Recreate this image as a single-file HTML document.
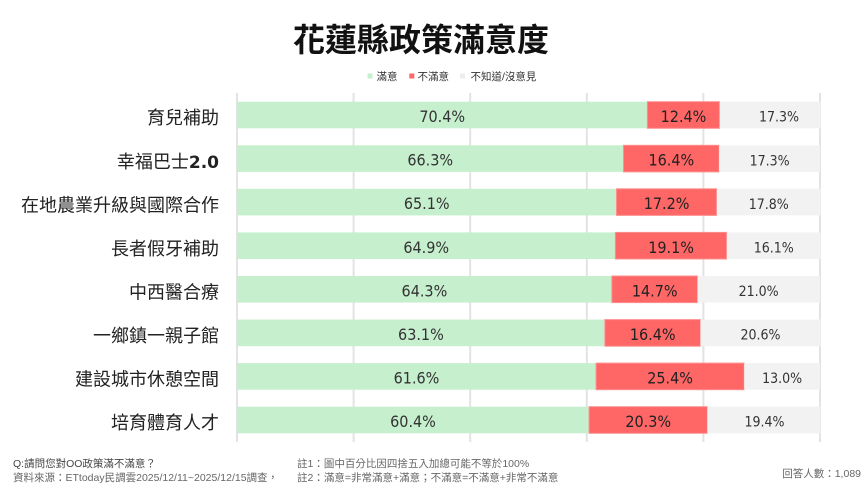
<!DOCTYPE html>
<html>
<head>
<meta charset="utf-8">
<style>
  html, body { margin: 0; padding: 0; background: #ffffff; }
  body { width: 868px; height: 491px; overflow: hidden; }
  svg { display: block; }
  .cjk { font-family: "Liberation Sans", "Noto Sans CJK TC", "Noto Sans CJK SC", sans-serif; }
  .num { font-family: "DejaVu Sans Condensed", "Liberation Sans", sans-serif; }
</style>
</head>
<body>
<svg width="868" height="491" viewBox="0 0 868 491" xmlns="http://www.w3.org/2000/svg">
  <rect x="0" y="0" width="868" height="491" fill="#ffffff"/>

  <!-- Title -->
  <text x="421" y="51" text-anchor="middle" class="cjk" font-size="32" font-weight="bold" fill="#111">花蓮縣政策滿意度</text>

  <!-- Legend -->
  <rect x="367.5" y="73.5" width="5" height="5" fill="#C6EFCE"/>
  <text x="376.5" y="80" class="cjk" font-size="10.5" fill="#333">滿意</text>
  <rect x="409.3" y="73.5" width="5" height="5" fill="#FF6666"/>
  <text x="417.5" y="80" class="cjk" font-size="10.5" fill="#333">不滿意</text>
  <rect x="460" y="73.5" width="5" height="5" fill="#EDEDED"/>
  <text x="470.5" y="80" class="cjk" font-size="10.5" fill="#333">不知道/沒意見</text>

  <!-- Gridlines -->
  <g stroke="#E3E3E3" stroke-width="2">
    <line x1="237" y1="93" x2="237" y2="442"/>
    <line x1="353.6" y1="93" x2="353.6" y2="442"/>
    <line x1="470.2" y1="93" x2="470.2" y2="442"/>
    <line x1="586.8" y1="93" x2="586.8" y2="442"/>
    <line x1="703.4" y1="93" x2="703.4" y2="442"/>
    <line x1="820" y1="93" x2="820" y2="442"/>
  </g>

  <!-- Row 1 -->
  <rect x="237" y="101.7" width="410.4" height="26.6" fill="#C6EFCE"/>
  <rect x="647.4" y="101.7" width="72.3" height="26.6" fill="#FF6666" stroke="#FF8F8F" stroke-width="1"/>
  <rect x="719.7" y="101.7" width="100.9" height="26.6" fill="#F2F2F2"/>
  <!-- Row 2 -->
  <rect x="237" y="145.3" width="386.5" height="26.6" fill="#C6EFCE"/>
  <rect x="623.5" y="145.3" width="95.6" height="26.6" fill="#FF6666" stroke="#FF8F8F" stroke-width="1"/>
  <rect x="719.1" y="145.3" width="100.9" height="26.6" fill="#F2F2F2"/>
  <!-- Row 3 -->
  <rect x="237" y="188.8" width="379.5" height="26.6" fill="#C6EFCE"/>
  <rect x="616.5" y="188.8" width="100.3" height="26.6" fill="#FF6666" stroke="#FF8F8F" stroke-width="1"/>
  <rect x="716.8" y="188.8" width="103.8" height="26.6" fill="#F2F2F2"/>
  <!-- Row 4 -->
  <rect x="237" y="232.4" width="378.4" height="26.6" fill="#C6EFCE"/>
  <rect x="615.4" y="232.4" width="111.4" height="26.6" fill="#FF6666" stroke="#FF8F8F" stroke-width="1"/>
  <rect x="726.8" y="232.4" width="93.8" height="26.6" fill="#F2F2F2"/>
  <!-- Row 5 -->
  <rect x="237" y="276" width="374.9" height="26.6" fill="#C6EFCE"/>
  <rect x="611.9" y="276" width="85.7" height="26.6" fill="#FF6666" stroke="#FF8F8F" stroke-width="1"/>
  <rect x="697.6" y="276" width="122.4" height="26.6" fill="#F2F2F2"/>
  <!-- Row 6 -->
  <rect x="237" y="319.6" width="367.9" height="26.6" fill="#C6EFCE"/>
  <rect x="604.9" y="319.6" width="95.6" height="26.6" fill="#FF6666" stroke="#FF8F8F" stroke-width="1"/>
  <rect x="700.5" y="319.6" width="120.1" height="26.6" fill="#F2F2F2"/>
  <!-- Row 7 -->
  <rect x="237" y="363.1" width="359.1" height="26.6" fill="#C6EFCE"/>
  <rect x="596.1" y="363.1" width="148.1" height="26.6" fill="#FF6666" stroke="#FF8F8F" stroke-width="1"/>
  <rect x="744.2" y="363.1" width="75.8" height="26.6" fill="#F2F2F2"/>
  <!-- Row 8 -->
  <rect x="237" y="406.7" width="352.1" height="26.6" fill="#C6EFCE"/>
  <rect x="589.1" y="406.7" width="118.3" height="26.6" fill="#FF6666" stroke="#FF8F8F" stroke-width="1"/>
  <rect x="707.4" y="406.7" width="113.1" height="26.6" fill="#F2F2F2"/>

  <!-- Category labels -->
  <g class="cjk" font-size="18" fill="#222" text-anchor="end">
    <text x="219" y="124.2">育兒補助</text>
    <text x="219" y="167.8">幸福巴士<tspan font-family="DejaVu Sans, Liberation Sans, sans-serif" font-weight="bold" font-size="17">2.0</tspan></text>
    <text x="219" y="211.3">在地農業升級與國際合作</text>
    <text x="219" y="254.9">長者假牙補助</text>
    <text x="219" y="298.5">中西醫合療</text>
    <text x="219" y="342.1">一鄉鎮一親子館</text>
    <text x="219" y="385.6">建設城市休憩空間</text>
    <text x="219" y="429.2">培育體育人才</text>
  </g>

  <!-- Satisfied labels -->
  <g class="num" font-size="16" fill="#333" text-anchor="middle">
    <text x="442.2" y="122.1">70.4%</text>
    <text x="430.2" y="165.7">66.3%</text>
    <text x="426.7" y="209.2">65.1%</text>
    <text x="426.2" y="252.8">64.9%</text>
    <text x="424.4" y="296.4">64.3%</text>
    <text x="420.9" y="340">63.1%</text>
    <text x="416.5" y="383.5">61.6%</text>
    <text x="413" y="427.1">60.4%</text>
  </g>

  <!-- Dissatisfied labels -->
  <g class="num" font-size="16" fill="#222" text-anchor="middle">
    <text x="683.5" y="122.1">12.4%</text>
    <text x="671.3" y="165.7">16.4%</text>
    <text x="666.6" y="209.2">17.2%</text>
    <text x="671.1" y="252.8">19.1%</text>
    <text x="654.7" y="296.4">14.7%</text>
    <text x="652.7" y="340">16.4%</text>
    <text x="670.1" y="383.5">25.4%</text>
    <text x="648.2" y="427.1">20.3%</text>
  </g>

  <!-- Don't know labels -->
  <g class="num" font-size="14" fill="#333" text-anchor="middle">
    <text x="779" y="121.7">17.3%</text>
    <text x="769.6" y="165.3">17.3%</text>
    <text x="768.7" y="208.8">17.8%</text>
    <text x="773.7" y="252.4">16.1%</text>
    <text x="758.6" y="296">21.0%</text>
    <text x="760.5" y="339.6">20.6%</text>
    <text x="782.1" y="383.1">13.0%</text>
    <text x="764.5" y="426.7">19.4%</text>
  </g>

  <!-- Footer -->
  <g class="cjk" font-size="10.5">
    <text x="13" y="467" fill="#444">Q:請問您對OO政策滿不滿意？</text>
    <text x="13" y="481" fill="#666">資料來源：ETtoday民調雲2025/12/11~2025/12/15調查，</text>
    <text x="297" y="467" fill="#666">註1：圖中百分比因四捨五入加總可能不等於100%</text>
    <text x="297" y="481" fill="#666">註2：滿意=非常滿意+滿意；不滿意=不滿意+非常不滿意</text>
    <text x="861" y="477" fill="#666" text-anchor="end">回答人數：1,089</text>
  </g>
</svg>
</body>
</html>
